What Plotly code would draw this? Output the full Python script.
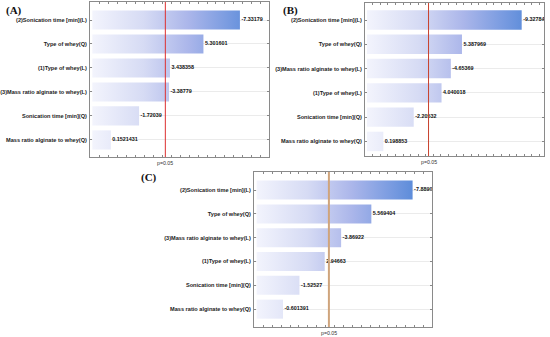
import plotly.graph_objects as go

# ---------------- data ----------------
CATS_A = ["(2)Sonication time [min](L)", "Type of whey(Q)", "(1)Type of whey(L)",
          "(3)Mass ratio alginate to whey(L)", "Sonication time [min](Q)",
          "Mass ratio alginate to whey(Q)"]
EFFECTS_A = ["-7.33179", "5.301601", "3.438358", "-3.38779", "-1.72039", "0.1521431"]

CATS_B = ["(2)Sonication time [min](L)", "Type of whey(Q)",
          "(3)Mass ratio alginate to whey(L)", "(1)Type of whey(L)",
          "Sonication time [min](Q)", "Mass ratio alginate to whey(Q)"]
EFFECTS_B = ["-9.32784", "5.387969", "-4.65369", "4.040018", "-2.20532", "0.198853"]

CATS_C = ["(2)Sonication time [min](L)", "Type of whey(Q)",
          "(3)Mass ratio alginate to whey(L)", "(1)Type of whey(L)",
          "Sonication time [min](Q)", "Mass ratio alginate to whey(Q)"]
EFFECTS_C = ["-7.8890", "5.569404", "-3.86922", "2.94663", "-1.52527", "-0.601391"]

P_CRIT = 3.182
P_LABEL = "p=0.05"
PANEL_TITLES = ["(A)", "(B)", "(C)"]

# ---------------- layout config ----------------
W, H = 550, 337
panels = [
    dict(cats=CATS_A, eff=EFFECTS_A, title=PANEL_TITLES[0],
         px=(90, 269), py=(2, 157), xr=(-1.01, 8.95), yr=(-0.75, 5.71),
         tpos=(4, 10), line="#dd2f2f", lw=1),
    dict(cats=CATS_B, eff=EFFECTS_B, title=PANEL_TITLES[1],
         px=(365, 544), py=(3, 156), xr=(-1.01, 10.8), yr=(-0.7, 5.6),
         tpos=(281, 10), line="#c8402c", lw=1),
    dict(cats=CATS_C, eff=EFFECTS_C, title=PANEL_TITLES[2],
         px=(254, 432), py=(172, 327), xr=(-1.03, 8.98), yr=(-0.76, 5.75),
         tpos=(139, 177), line="#cfa47c", lw=2),
]
BASE = -0.88
HALF = 0.4
SCALE = [[0, "#f4f5fd"], [0.3, "#d6dbf4"], [0.55, "#abb6ea"],
         [0.78, "#779ae0"], [1, "#4580d4"]]

fig = go.Figure()
TICKFONT = dict(family="Liberation Sans, Arial", size=5.6, color="#222", weight="bold")

for i, p in enumerate(panels):
    ax = "" if i == 0 else str(i + 1)
    xa, ya = "x" + ax, "y" + ax
    vals = [float(s) for s in p["eff"]]
    for k, v in enumerate(vals):
        e = abs(v)
        fig.add_trace(go.Scatter(
            x=[BASE, e, e, BASE, BASE], y=[k - HALF, k - HALF, k + HALF, k + HALF, k - HALF],
            mode="lines", line=dict(width=0), fill="toself",
            fillgradient=dict(type="horizontal", colorscale=SCALE,
                              start=p["xr"][0], stop=p["xr"][1]),
            xaxis=xa, yaxis=ya, hoverinfo="skip", showlegend=False))
    fig.add_trace(go.Scatter(
        x=[abs(v) for v in vals], y=list(range(len(vals))), mode="text",
        text=[" " + s for s in p["eff"]], textposition="middle right",
        textfont=dict(family="Liberation Sans, Arial", size=5.4, color="#111", weight="bold"),
        xaxis=xa, yaxis=ya, hoverinfo="skip", showlegend=False, cliponaxis=False))

    dx = [p["px"][0] / W, p["px"][1] / W]
    dy = [1 - p["py"][1] / H, 1 - p["py"][0] / H]
    fig.update_layout(**{
        "xaxis" + ax: dict(domain=dx, range=list(p["xr"]), anchor=ya, showgrid=False,
                          zeroline=False, showticklabels=False, ticks="inside",
                          ticklen=2, tickcolor="#888", dtick=0.5, showline=True,
                          linecolor="#8a8a8a", linewidth=1, mirror="allticks"),
        "yaxis" + ax: dict(domain=dy, range=[p["yr"][1], p["yr"][0]], anchor=xa,
                          tickvals=list(range(len(p["cats"]))), ticktext=p["cats"],
                          tickfont=TICKFONT, showgrid=True, gridcolor="#ebebeb",
                          gridwidth=1, zeroline=False, ticks="inside", ticklen=2,
                          tickcolor="#888", showline=True, linecolor="#8a8a8a",
                          linewidth=1, mirror="allticks", ticklabelstandoff=1),
    })
    fig.add_shape(type="line", xref=xa, yref=ya + " domain", x0=P_CRIT, x1=P_CRIT,
                  y0=0, y1=1, line=dict(color=p["line"], width=p["lw"]), layer="above")
    fig.add_annotation(xref=xa, yref=ya + " domain", x=P_CRIT, y=0, yshift=-6,
                       text=P_LABEL, showarrow=False, xanchor="center", yanchor="middle",
                       font=dict(family="Liberation Sans, Arial", size=5.2, color="#333"))
    fig.add_annotation(xref="paper", yref="paper", x=p["tpos"][0] / W,
                       y=1 - p["tpos"][1] / H, text=p["title"], showarrow=False,
                       xanchor="left", yanchor="middle",
                       font=dict(family="Liberation Serif, Times New Roman", size=11,
                                 color="#111", weight="bold"))

fig.update_layout(width=W, height=H, margin=dict(l=0, r=0, t=0, b=0),
                  paper_bgcolor="white", plot_bgcolor="white", showlegend=False)
fig.write_html("out.html", config={"displayModeBar": False},
               post_script="document.body.style.margin='0';document.body.style.overflow='hidden';")
